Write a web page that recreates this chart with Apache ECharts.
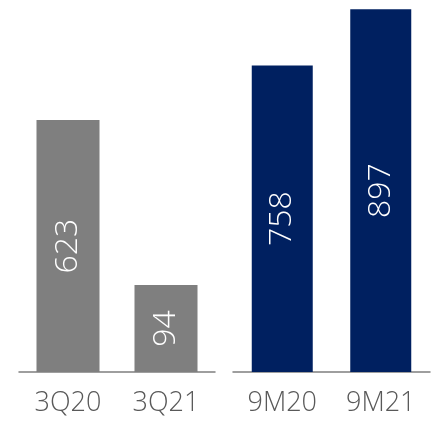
<!DOCTYPE html>
<html>
<head>
<meta charset="utf-8">
<script src="https://cdn.jsdelivr.net/npm/echarts@6/dist/echarts.min.js"></script>
<style>
html,body{margin:0;padding:0;background:#fff;}
#chart{width:433px;height:423px;}
</style>
</head>
<body>
<div id="chart"></div>
<script>
const quarterCategories = ['3Q20', '3Q21'];
const quarterValues = [623, 94];
const nineMonthCategories = ['9M20', '9M21'];
const nineMonthValues = [758, 897];

const FONT = '"Open Sans", "Noto Sans", sans-serif';
const chart = echarts.init(document.getElementById('chart'));

function xAxis(gridIndex, cats) {
  return {
    type: 'category', gridIndex: gridIndex, data: cats,
    axisLine: { show: true, lineStyle: { color: '#7f7f7f', width: 1.5 } },
    axisTick: { show: false },
    axisLabel: { color: '#595959', fontSize: 27, fontFamily: FONT, fontWeight: 300, margin: 18 }
  };
}
function yAxis(gridIndex) {
  return { type: 'value', gridIndex: gridIndex, min: 0, max: 900, show: false, splitLine: { show: false } };
}
const label = {
  show: true, position: 'inside', rotate: 90, color: '#ffffff',
  fontSize: 32, fontFamily: FONT, fontWeight: 300
};

chart.setOption({
  animation: false,
  grid: [
    { left: 19, width: 196, top: 8, bottom: 51 },
    { left: 233, width: 197, top: 8, bottom: 51 }
  ],
  xAxis: [xAxis(0, quarterCategories), xAxis(1, nineMonthCategories)],
  yAxis: [yAxis(0), yAxis(1)],
  series: [
    { type: 'bar', xAxisIndex: 0, yAxisIndex: 0, data: quarterValues, barWidth: 63,
      barMinHeight: 87, itemStyle: { color: '#7f7f7f' }, label: label },
    { type: 'bar', xAxisIndex: 1, yAxisIndex: 1, data: nineMonthValues, barWidth: 61,
      itemStyle: { color: '#002060' }, label: label }
  ]
});
</script>
</body>
</html>
